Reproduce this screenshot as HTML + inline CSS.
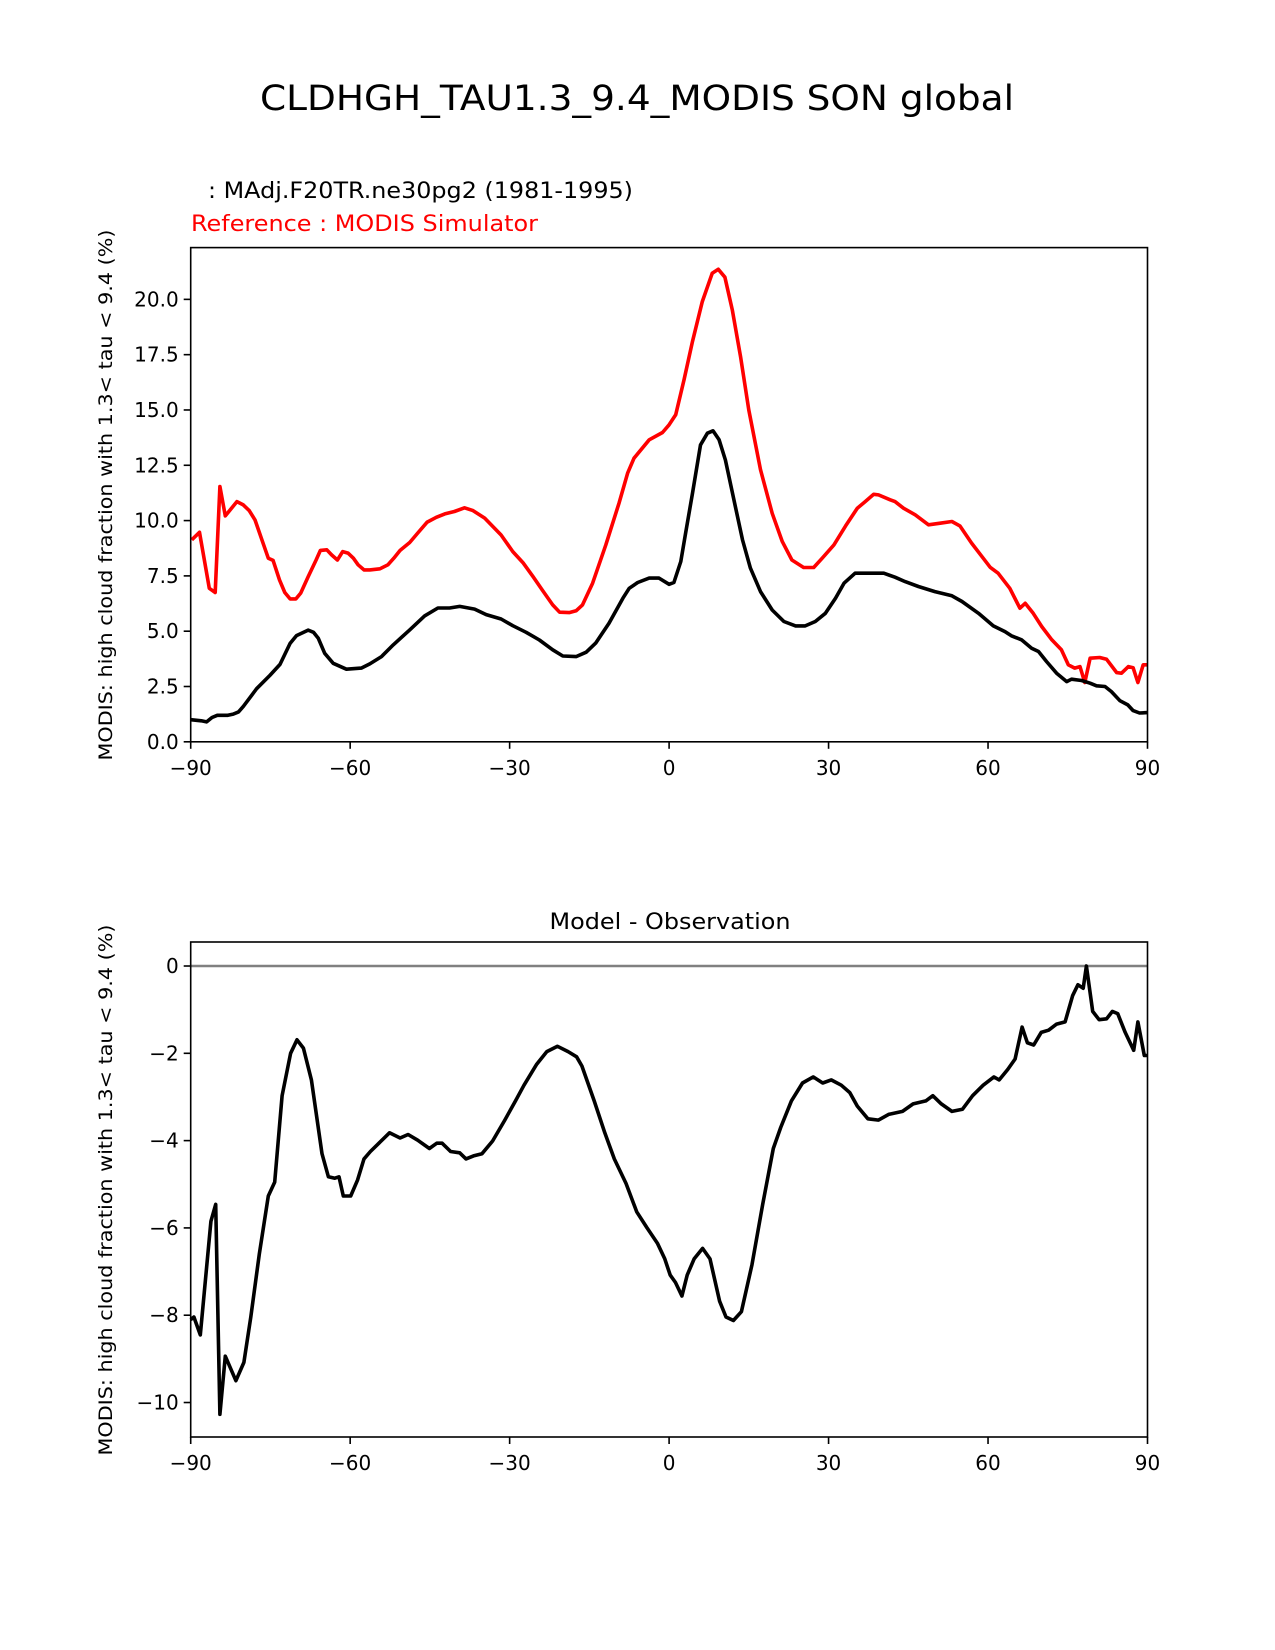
<!DOCTYPE html>
<html><head><meta charset="utf-8"><style>
html,body{margin:0;padding:0;background:#fff;}
svg{display:block;font-family:"DejaVu Sans","Liberation Sans",sans-serif;}
</style></head><body>
<svg id="fig" width="1275" height="1650" viewBox="0 0 1275 1650">
<text x="637" y="110" font-size="35" text-anchor="middle" textLength="754" lengthAdjust="spacingAndGlyphs">CLDHGH_TAU1.3_9.4_MODIS SON global</text>
<text x="208" y="198" font-size="22" textLength="425" lengthAdjust="spacingAndGlyphs">: MAdj.F20TR.ne30pg2 (1981-1995)</text>
<text x="191" y="231" font-size="22" fill="#ff0000" textLength="347" lengthAdjust="spacingAndGlyphs">Reference : MODIS Simulator</text>
<text x="929" y="929" font-size="22" text-anchor="middle" transform="translate(-259,0)" textLength="241" lengthAdjust="spacingAndGlyphs">Model - Observation</text>
<g id="top"></g>
<g id="bot"></g>
</svg>
<script>
const refLat=[-89.8,-88.35,-86.5,-85.4,-84.5,-83.5,-81.3,-80.1,-79,-77.9,-76.6,-75.4,-74.5,-73.3,-72.3,-71.3,-70.2,-69.3,-67.9,-66.4,-65.6,-64.4,-63.5,-62.4,-61.4,-60.4,-59.4,-58.5,-57.4,-56.3,-54.4,-52.9,-51.8,-50.6,-48.8,-47.2,-45.5,-43.8,-42.2,-40.4,-38.5,-36.9,-34.7,-31.6,-29.4,-27.5,-25.6,-23.8,-21.9,-20.6,-18.8,-17.5,-16.3,-14.4,-11.9,-9.4,-7.8,-6.6,-3.75,-1.25,0,1.25,2.8,4.4,6.25,8.1,9.25,10.5,11.9,13.45,15,17.2,19.4,21.3,23.1,25.3,27.2,28.8,31,33.2,35.4,36.9,38.5,39.4,41.6,42.5,44.1,46.3,48.8,51,53.2,54.7,56.9,59.1,60.4,61.9,64.1,66,67,68.5,70.1,72,73.8,75.1,76.3,77.3,78.2,79.2,81,82.3,84.2,85.1,86.4,87.3,88.2,89.2,90];
const refVal=[9.13,9.47,6.94,6.75,11.54,10.21,10.86,10.71,10.45,10.03,9.13,8.3,8.2,7.32,6.75,6.46,6.46,6.72,7.47,8.22,8.65,8.68,8.45,8.22,8.6,8.53,8.3,8.0,7.77,7.77,7.82,8.0,8.3,8.65,9.01,9.46,9.93,10.15,10.3,10.41,10.58,10.45,10.11,9.35,8.6,8.1,7.47,6.84,6.19,5.86,5.84,5.92,6.19,7.17,8.9,10.8,12.14,12.82,13.65,13.98,14.33,14.78,16.36,18.1,19.9,21.18,21.36,21.0,19.5,17.4,15.0,12.3,10.33,9.05,8.22,7.88,7.88,8.3,8.9,9.76,10.56,10.86,11.19,11.16,10.94,10.86,10.56,10.26,9.81,9.88,9.96,9.76,8.98,8.3,7.89,7.62,6.94,6.04,6.26,5.81,5.21,4.61,4.16,3.48,3.33,3.4,2.68,3.78,3.81,3.73,3.13,3.1,3.4,3.35,2.68,3.48,3.48];
const modLat=[-90,-88,-87,-86,-85,-83,-82,-81,-80.1,-77.6,-75.1,-73.2,-71.3,-70.1,-67.9,-66.9,-66,-64.8,-63.2,-60.7,-57.9,-56.3,-54.1,-51.9,-48.8,-46,-43.5,-41.3,-39.4,-36.6,-34.4,-31.6,-29.4,-26.9,-24.4,-21.9,-20,-17.5,-15.6,-13.8,-11.3,-8.7,-7.5,-5.9,-3.75,-1.9,0,0.9,2.2,3.1,4.4,5.9,7.2,8.25,9.4,10.6,12.2,13.8,15.3,17.2,19.4,21.6,23.8,25.6,27.5,29.4,31.3,32.9,35,36.9,40.4,42.5,44.4,46.9,50,53.2,55.1,58.2,61,63.2,64.4,66.3,68.2,69.5,71,72.9,74.8,75.7,77.6,79.2,80.4,82,83.2,84.8,86.3,87.3,88.5,90];
const modVal=[1.0,0.95,0.9,1.1,1.2,1.2,1.25,1.35,1.6,2.4,3.0,3.5,4.45,4.8,5.05,4.95,4.68,4.0,3.55,3.28,3.33,3.52,3.85,4.38,5.06,5.69,6.05,6.05,6.12,6.0,5.75,5.55,5.25,4.95,4.6,4.16,3.88,3.85,4.05,4.46,5.36,6.49,6.94,7.2,7.4,7.4,7.12,7.2,8.15,9.43,11.24,13.42,13.95,14.06,13.65,12.74,10.94,9.13,7.85,6.79,5.96,5.44,5.24,5.24,5.44,5.81,6.49,7.17,7.62,7.62,7.62,7.44,7.24,7.02,6.79,6.6,6.34,5.81,5.24,4.98,4.79,4.61,4.23,4.08,3.63,3.1,2.72,2.83,2.77,2.65,2.53,2.5,2.27,1.86,1.67,1.41,1.3,1.32];
const diffLat=[-90,-89.4,-88.2,-86.2,-85.3,-84.5,-83.5,-81.5,-80,-78.7,-77.1,-75.4,-74.2,-72.8,-71.2,-70,-68.8,-67.3,-65.3,-64.1,-62.9,-62.1,-61.3,-59.9,-58.6,-57.4,-56.2,-54.6,-52.6,-50.6,-49.1,-47.3,-45.1,-43.7,-42.7,-41.1,-39.4,-38.2,-36.8,-35.2,-33.2,-30.9,-28.9,-27.3,-24.9,-23,-21,-19,-17.4,-16.4,-14.1,-12.1,-10.3,-8.1,-6.1,-4.2,-2.2,-0.8,0.2,1.2,2.4,3.4,4.7,6.3,7.7,9.5,10.7,12.1,13.6,15.6,17.6,19.6,21,23,25.1,27.1,28.9,30.5,32.4,34,35.4,37.4,39.4,41.3,43.9,45.9,48.3,49.6,51.2,53.2,55.2,57.1,59.1,61.1,62.1,63.7,65.1,66.4,67.4,68.6,70,71.4,72.9,74.5,75.9,76.9,77.9,78.5,79.7,80.9,82.3,83.4,84.4,85.8,87.4,88.2,89.4,90];
const diffVal=[-8.1,-8.04,-8.45,-5.85,-5.46,-10.27,-8.94,-9.5,-9.08,-8.04,-6.6,-5.27,-4.95,-2.97,-2.0,-1.69,-1.88,-2.61,-4.3,-4.83,-4.86,-4.83,-5.27,-5.27,-4.9,-4.42,-4.25,-4.06,-3.82,-3.94,-3.86,-3.99,-4.18,-4.06,-4.06,-4.25,-4.28,-4.42,-4.35,-4.3,-4.01,-3.53,-3.09,-2.73,-2.25,-1.96,-1.84,-1.96,-2.08,-2.29,-3.09,-3.82,-4.42,-4.98,-5.63,-5.99,-6.35,-6.71,-7.08,-7.25,-7.56,-7.08,-6.71,-6.47,-6.71,-7.68,-8.04,-8.12,-7.92,-6.84,-5.46,-4.18,-3.7,-3.09,-2.68,-2.54,-2.68,-2.61,-2.73,-2.9,-3.21,-3.5,-3.53,-3.4,-3.33,-3.16,-3.09,-2.97,-3.16,-3.33,-3.28,-2.97,-2.73,-2.54,-2.61,-2.37,-2.13,-1.4,-1.76,-1.81,-1.52,-1.47,-1.33,-1.28,-0.68,-0.43,-0.51,0.0,-1.04,-1.23,-1.21,-1.04,-1.09,-1.52,-1.93,-1.28,-2.05,-2.05];
const xTicks=[-90,-60,-30,0,30,60,90];
const xTickLabels=["\u221290","\u221260","\u221230","0","30","60","90"];
const topYTicks=[0,2.5,5,7.5,10,12.5,15,17.5,20];
const topYTickLabels=["0.0","2.5","5.0","7.5","10.0","12.5","15.0","17.5","20.0"];
const botYTicks=[-10,-8,-6,-4,-2,0];
const botYTickLabels=["\u221210","\u22128","\u22126","\u22124","\u22122","0"];

const NS="http://www.w3.org/2000/svg";
function mk(parent,tag,attrs){const e=document.createElementNS(NS,tag);for(const k in attrs)e.setAttribute(k,attrs[k]);parent.appendChild(e);return e;}
function panel(g,box,ymin,ymax,yt,ytl,ylabelCy,pfx){
  const L=box[0],R=box[1],T=box[2],B=box[3];
  const sx=v=>L+(v+90)/180*(R-L);
  const sy=v=>B-(v-ymin)/(ymax-ymin)*(B-T);
  return {sx,sy,draw(){
    xTicks.forEach((t,i)=>{
      const tk=mk(g,'line',{x1:sx(t),x2:sx(t),y1:B,y2:B+7,stroke:'#000','stroke-width':1.6});
      
      
      const tl=mk(g,'text',{x:sx(t),y:B+33,'font-size':20,'text-anchor':'middle'});
      tl.textContent=xTickLabels[i];
      
      
    });
    yt.forEach((t,i)=>{
      const tk=mk(g,'line',{x1:L-7,x2:L,y1:sy(t),y2:sy(t),stroke:'#000','stroke-width':1.6});
      
      
      const tl=mk(g,'text',{x:L-12,y:sy(t)+7,'font-size':20,'text-anchor':'end'});
      tl.textContent=ytl[i];
      
      
    });
    const yl=mk(g,'text',{x:0,y:0,'font-size':19,'text-anchor':'middle',textLength:531,lengthAdjust:'spacingAndGlyphs',transform:`translate(112,${ylabelCy}) rotate(-90)`});
    yl.textContent='MODIS: high cloud fraction with 1.3< tau < 9.4 (%)';
    
    
  },frame(){
    const f=mk(g,'rect',{x:L,y:T,width:R-L,height:B-T,fill:'none',stroke:'#000','stroke-width':1.6});
    
    
  }};
}
function line(g,p,xs,ys,color,name,w){
  const d=xs.map((x,i)=>(i?'L':'M')+p.sx(x).toFixed(1)+','+p.sy(ys[i]).toFixed(1)).join('');
  const e=mk(g,'path',{d:d,fill:'none',stroke:color,'stroke-width':w,'stroke-linejoin':'round'});
  
  
}
const gt=document.getElementById('top'), gb=document.getElementById('bot');
const pt=panel(gt,[190.7,1147.5,247.6,741.8],0,22.34,topYTicks,topYTickLabels,495,'top');
pt.draw();
line(gt,pt,refLat,refVal,'#ff0000','reference-line',3.6);
line(gt,pt,modLat,modVal,'#000000','model-line',3.6);
pt.frame();
const pb=panel(gb,[190.7,1147.5,942,1437],-10.79,0.55,botYTicks,botYTickLabels,1190,'diff');
pb.draw();
const z=mk(gb,'line',{x1:190.7,x2:1147.5,y1:pb.sy(0),y2:pb.sy(0),stroke:'#808080','stroke-width':2.4});


line(gb,pb,diffLat,diffVal,'#000000','difference-line',3.6);
pb.frame();
</script>
</body></html>
